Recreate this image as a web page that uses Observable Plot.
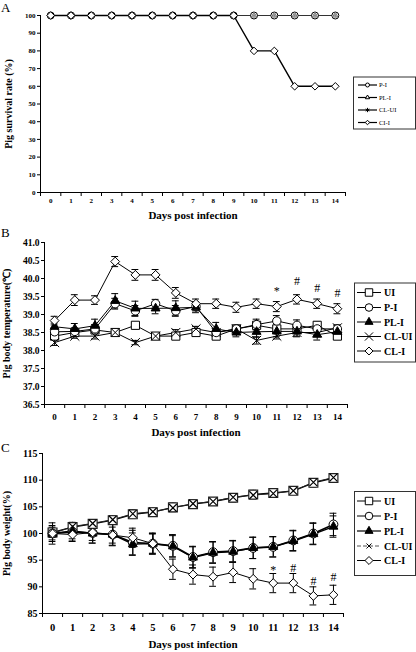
<!DOCTYPE html>
<html><head><meta charset="utf-8">
<script src="https://cdn.jsdelivr.net/npm/d3@7"></script>
<script src="https://cdn.jsdelivr.net/npm/@observablehq/plot@0.6"></script>
<style>
html,body{margin:0;padding:0;background:#fff;}
#page{position:relative;width:416px;height:652px;overflow:hidden;font-family:"Liberation Serif",serif;}
#page > svg{position:absolute;left:0;margin:0;}
</style></head><body><div id="page"></div>
<script>
// ---------- data ----------
const days = [0,1,2,3,4,5,6,7,8,9,10,11,12,13,14];
const xAxisTitle = "Days post infection";

// Panel A: survival rate (%)
const survivalTicks = [0,10,20,30,40,50,60,70,80,90,100];
const survivalPI   = [100,100,100,100,100,100,100,100,100,100,100,100,100,100,100];
const survivalPLI  = [100,100,100,100,100,100,100,100,100,100,100,100,100,100,100];
const survivalCLUI = [100,100,100,100,100,100,100,100,100,100,100,100,100,100,100];
const survivalCLI  = [100,100,100,100,100,100,100,100,100,100,80,80,60,60,60];
const legendA = ["P-I","PL-I","CL-UI","CI-I"];

// Panel B: body temperature (°C)
const tempTicks = [36.5,37,37.5,38,38.5,39,39.5,40,40.5,41];
const tempUI   = [38.4,38.5,38.57,38.5,38.7,38.4,38.4,38.5,38.4,38.6,38.7,38.6,38.6,38.7,38.4];
const tempPI   = [38.52,38.53,38.6,39.3,39.1,39.3,39.1,39.22,38.5,38.6,38.72,38.82,38.7,38.6,38.6];
const tempPLI  = [38.66,38.6,38.69,39.38,39.17,39.17,39.18,39.2,38.6,38.5,38.52,38.53,38.53,38.44,38.52];
const tempCLUI = [38.22,38.4,38.4,38.5,38.22,38.4,38.5,38.6,38.5,38.6,38.28,38.4,38.5,38.5,38.63];
const tempCLI  = [38.83,39.4,39.4,40.47,40.1,40.1,39.6,39.3,39.3,39.2,39.3,39.22,39.42,39.3,39.16];
const tempErrUI   = [0.08,0.07,0.08,0.06,0.07,0.06,0.07,0.06,0.07,0.08,0.08,0.1,0.1,0.1,0.08];
const tempErrPI   = [0.12,0.1,0.12,0.15,0.15,0.12,0.15,0.12,0.1,0.1,0.15,0.15,0.15,0.1,0.1];
const tempErrPLI  = [0.1,0.15,0.18,0.2,0.2,0.15,0.2,0.15,0.18,0.12,0.15,0.15,0.15,0.15,0.12];
const tempErrCLUI = [0.08,0.06,0.08,0.06,0.06,0.06,0.08,0.07,0.06,0.07,0.1,0.08,0.1,0.08,0.08];
const tempErrCLI  = [0.12,0.15,0.12,0.14,0.15,0.15,0.15,0.13,0.13,0.14,0.13,0.14,0.13,0.13,0.14];
const tempMarkDays = [11,12,13,14];
const tempMarkText = ["*","#","#","#"];
const tempMarkY    = [39.64,39.93,39.74,39.6];

// Panel C: body weight (%)
const weightTicks = [85,90,95,100,105,110,115];
const weightUI   = [100.2,101.2,101.8,102.5,103.6,104,104.9,105.5,106,106.7,107.3,107.6,108,109.5,110.4];
const weightPI   = [100,100.3,100.1,99.8,98.3,98.1,97.7,95.6,96.5,96.7,97.3,97.5,98.7,100,101.7];
const weightPLI  = [100,100.5,100,99.8,98,98.1,97.6,95.5,96.4,96.6,97.3,97.5,98.6,99.9,101.3];
const weightCLUI = [100,101.3,101.9,102.6,103.7,104.1,104.8,105.6,106,106.8,107.2,107.5,108,109.6,110.5];
const weightCLI  = [100,99.8,100.2,99.7,99.2,98.1,93.3,92.3,91.9,92.7,91.5,90.7,90.7,88.3,88.5];
const weightErrUI   = [0.8,0.8,0.7,0.8,0.8,0.7,0.8,0.8,0.7,0.8,0.8,0.8,0.7,0.8,0.8];
const weightErrPI   = [2,1.8,1.9,2.1,2.3,2,2.1,2,2,2,2,1.9,1.9,2,2.1];
const weightErrPLI  = [1.5,1.5,1.8,2,2.1,1.8,2,2,2,2,2,1.9,1.9,2,2];
const weightErrCLUI = [0.7,0.7,0.7,0.7,0.7,0.7,0.7,0.7,0.7,0.7,0.7,0.7,0.7,0.7,0.7];
const weightErrCLI  = [1.2,1.2,1.5,1.5,1.8,1.9,1.9,1.8,1.8,1.9,1.9,1.8,1.8,1.7,1.8];
const weightMarkDays = [11,12,13,14];
const weightMarkText = ["*","#","#","#"];
const weightMarkY    = [93.2,93.5,91.0,91.8];

const legendBC = ["UI","P-I","PL-I","CL-UI","CL-I"];

// ---------- helpers ----------
const FONT = "'Liberation Serif', 'Times New Roman', serif";
const page = document.getElementById("page");
const rows = (vals, errs) => days.map((d, i) => ({day: d, value: vals[i], err: errs ? errs[i] : 0}));

function seriesMarks(s, capW) {
  const data = rows(s.values, s.errs);
  const m = [];
  m.push(Plot.line(data, {x: "day", y: "value", stroke: s.lineStroke || "black", strokeWidth: s.lineWidth || 1}));
  if (s.errs) {
    m.push(Plot.ruleX(data, {x: "day", y1: d => d.value - d.err, y2: d => d.value + d.err, stroke: "black", strokeWidth: 1}));
    m.push(Plot.ruleY(data, {y: d => d.value + d.err, x1: d => d.day - capW, x2: d => d.day + capW, stroke: "black", strokeWidth: 1}));
    m.push(Plot.ruleY(data, {y: d => d.value - d.err, x1: d => d.day - capW, x2: d => d.day + capW, stroke: "black", strokeWidth: 1}));
  }
  return m;
}
function dotMarks(s) {
  const data = rows(s.values, s.errs);
  return Plot.dot(data, {x: "day", y: "value", symbol: () => s.symbol, r: s.r,
    fill: s.fill, stroke: s.stroke || "black", strokeWidth: s.strokeWidth || 1});
}

function makePanel(cfg) {
  const boundaries = days.map(d => d - 0.5).concat([days[days.length - 1] + 0.5]);
  const marks = [
    Plot.ruleY([cfg.yDomain[0]], {stroke: "black"}),
    Plot.ruleX([boundaries[0]], {stroke: "black"}),
    Plot.axisY({ticks: cfg.yTicks, tickSize: 3, tickPadding: 2, fontSize: cfg.yTickFont, fontWeight: "bold", label: null}),
    Plot.axisX({ticks: boundaries, tickSize: 4, tickFormat: () => "", label: null}),
    Plot.axisX({ticks: days, tickSize: 0, tickPadding: cfg.xTickPad, fontSize: cfg.xTickFont, fontWeight: "bold", label: null}),
    Plot.text([xAxisTitle], {frameAnchor: "bottom", text: d => d, dy: cfg.xTitleDy, fontSize: cfg.xTitleFont, fontWeight: "bold", fill: "black"}),
    Plot.text([cfg.yLabel], {frameAnchor: "left", text: d => d, rotate: -90, textAnchor: "middle", dx: cfg.yTitleDx, fontSize: cfg.yTitleFont, fontWeight: "bold", fill: "black"})
  ];
  for (const s of cfg.series) marks.push(...seriesMarks(s, cfg.capW));
  for (const s of cfg.series) marks.push(dotMarks(s));
  if (cfg.notes) {
    const nd = cfg.notes.days.map((d, i) => ({day: d, y: cfg.notes.y[i], t: cfg.notes.text[i]}));
    marks.push(Plot.text(nd, {x: "day", y: "y", text: "t", fontSize: cfg.notes.font, fill: "black", fontFamily: FONT}));
  }
  const svg = Plot.plot({
    width: cfg.width, height: cfg.height,
    marginTop: cfg.mt, marginBottom: cfg.mb, marginLeft: cfg.ml, marginRight: cfg.mr,
    x: {domain: [boundaries[0], boundaries[boundaries.length - 1]], axis: null},
    y: {domain: cfg.yDomain, axis: null},
    style: {fontFamily: FONT, background: "transparent", color: "black", overflow: "visible"},
    marks
  });
  svg.style.position = "absolute";
  svg.style.top = cfg.top + "px";
  svg.style.left = "0px";
  page.appendChild(svg);
}

// ---------- panel A ----------
makePanel({
  top: 0, width: 350, height: 224, mt: 15, mb: 32, ml: 40, mr: 5,
  yDomain: [0, 100], yTicks: survivalTicks, yTickFont: 7, xTickFont: 7, xTickPad: 6,
  xTitleDy: 26, xTitleFont: 11, yTitleDx: -32, yTitleFont: 10, yLabel: "Pig survival rate (%)",
  capW: 0.15,
  series: [
    {values: survivalPI, symbol: "circle", r: 3.5, fill: "white", lineStroke: "#333", lineWidth: 1.2},
    {values: survivalPLI, symbol: "triangle", r: 2.0, fill: "white", stroke: "#777", lineStroke: "#333", lineWidth: 1.2},
    {values: survivalCLUI, symbol: "asterisk", r: 1.8, fill: "none", stroke: "#888", lineStroke: "#333", lineWidth: 1.2},
    {values: survivalCLI, symbol: "diamond2", r: 3.4, fill: "white", lineStroke: "black", lineWidth: 1.4}
  ]
});

// ---------- panel B ----------
makePanel({
  top: 226, width: 350, height: 216, mt: 16, mb: 38, ml: 44, mr: 3,
  yDomain: [36.5, 41], yTicks: tempTicks, yTickFont: 9.5, xTickFont: 9, xTickPad: 9,
  xTitleDy: 31, xTitleFont: 11, yTitleDx: -38, yTitleFont: 10, yLabel: "Pig body temperature(℃)",
  capW: 0.17,
  series: [
    {values: tempUI, errs: tempErrUI, symbol: "square", r: 4.6, fill: "white"},
    {values: tempCLUI, errs: tempErrCLUI, symbol: "times", r: 4.2, fill: "none"},
    {values: tempPI, errs: tempErrPI, symbol: "circle", r: 4.2, fill: "white"},
    {values: tempPLI, errs: tempErrPLI, symbol: "triangle", r: 3.3, fill: "black"},
    {values: tempCLI, errs: tempErrCLI, symbol: "diamond2", r: 4, fill: "white"}
  ],
  notes: {days: tempMarkDays, y: tempMarkY, text: tempMarkText, font: 12}
});

// ---------- panel C ----------
makePanel({
  top: 442, width: 350, height: 210, mt: 11, mb: 39, ml: 42, mr: 7,
  yDomain: [85, 115], yTicks: weightTicks, yTickFont: 10, xTickFont: 10.5, xTickPad: 10,
  xTitleDy: 34, xTitleFont: 11, yTitleDx: -36, yTitleFont: 10, yLabel: "Pig body weight(%)",
  capW: 0.17,
  series: [
    {values: weightUI, errs: weightErrUI, symbol: "square", r: 5, fill: "white", stroke: "#222", strokeWidth: 1.2, lineWidth: 1.4},
    {values: weightCLUI, errs: weightErrCLUI, symbol: "times", r: 3.6, fill: "none", strokeWidth: 1.2, lineStroke: "#222"},
    {values: weightPI, errs: weightErrPI, symbol: "circle", r: 4.4, fill: "white", lineWidth: 1.6},
    {values: weightPLI, errs: weightErrPLI, symbol: "triangle", r: 3.3, fill: "black", lineWidth: 1.4},
    {values: weightCLI, errs: weightErrCLI, symbol: "diamond2", r: 4, fill: "white"}
  ],
  notes: {days: weightMarkDays, y: weightMarkY, text: weightMarkText, font: 12}
});

// ---------- overlay: panel letters and legends ----------
const ov = d3.select(page).append("svg").attr("width", 416).attr("height", 652)
  .style("position", "absolute").style("top", "0px").style("left", "0px")
  .style("font-family", FONT);

[["A", 12], ["B", 237], ["C", 452]].forEach(([t, y]) => {
  ov.append("text").attr("x", 1).attr("y", y).attr("font-size", 13).text(t);
});

const symMap = {circle: d3.symbolCircle, triangle: d3.symbolTriangle, square: d3.symbolSquare,
  times: d3.symbolTimes, diamond2: d3.symbolDiamond2, asterisk: d3.symbolAsterisk};

function legend(box, items, ys, lx1, lx2, tx, font, weight) {
  const g = ov.append("g");
  g.append("rect").attr("x", box[0]).attr("y", box[1]).attr("width", box[2]).attr("height", box[3])
    .attr("fill", "white").attr("stroke", "#333").attr("stroke-width", 1);
  items.forEach((it, i) => {
    const y = ys[i];
    g.append("line").attr("x1", lx1).attr("x2", lx2).attr("y1", y).attr("y2", y)
      .attr("stroke", it.lineStroke || "black").attr("stroke-width", it.lineWidth || 1)
      .attr("stroke-dasharray", it.dash || null);
    g.append("path").attr("d", d3.symbol(symMap[it.symbol], Math.PI * it.r * it.r)())
      .attr("transform", `translate(${(lx1 + lx2) / 2},${y})`)
      .attr("fill", it.fill).attr("stroke", it.stroke || "black").attr("stroke-width", 1);
    g.append("text").attr("x", tx).attr("y", y).attr("dy", "0.35em").attr("font-size", font)
      .attr("font-weight", weight).attr("fill", "black").text(it.label);
  });
}

legend([353.5, 77, 62, 52], [
  {label: legendA[0], symbol: "circle", r: 2, fill: "white", lineWidth: 1.2},
  {label: legendA[1], symbol: "triangle", r: 1.6, fill: "white", lineWidth: 1.2},
  {label: legendA[2], symbol: "asterisk", r: 2, fill: "none", lineWidth: 1.2},
  {label: legendA[3], symbol: "diamond2", r: 2, fill: "white", lineWidth: 1.2}
], [85, 97.5, 110, 122.5], 358, 377, 379, 6.5, "normal");

legend([354.5, 283, 61, 79], [
  {label: legendBC[0], symbol: "square", r: 4.2, fill: "white"},
  {label: legendBC[1], symbol: "circle", r: 3.8, fill: "white"},
  {label: legendBC[2], symbol: "triangle", r: 3, fill: "black"},
  {label: legendBC[3], symbol: "times", r: 3.8, fill: "none"},
  {label: legendBC[4], symbol: "diamond2", r: 3.6, fill: "white"}
], [292.5, 307.5, 322, 336.5, 351], 357, 381, 384, 10, "bold");

legend([354.5, 491.5, 61, 84], [
  {label: legendBC[0], symbol: "square", r: 4.2, fill: "white"},
  {label: legendBC[1], symbol: "circle", r: 3.8, fill: "white"},
  {label: legendBC[2], symbol: "triangle", r: 3, fill: "black", lineStroke: "#666", lineWidth: 2},
  {label: legendBC[3], symbol: "times", r: 2.4, fill: "none", lineStroke: "#555", dash: "4,2"},
  {label: legendBC[4], symbol: "diamond2", r: 3.6, fill: "white"}
], [501, 516, 531, 546, 560.5], 357, 381, 384, 10, "bold");
</script>
</body></html>
